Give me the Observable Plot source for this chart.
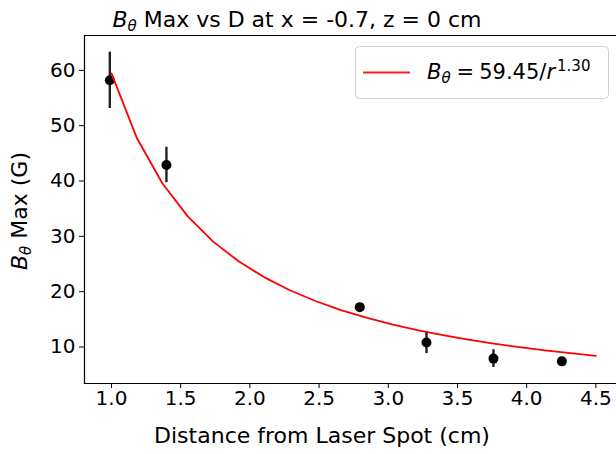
<!DOCTYPE html>
<html>
<head>
<meta charset="utf-8">
<script src="https://cdn.jsdelivr.net/npm/d3@7"></script>
<script src="https://cdn.jsdelivr.net/npm/@observablehq/plot@0.6"></script>
<style>
  html, body { margin: 0; padding: 0; background: #fff; }
  svg { font-family: "DejaVu Sans", sans-serif; }
</style>
</head>
<body>
<div id="chart"></div>
<script>
// Measured data points
const distance = [0.988, 1.397, 2.794, 3.276, 3.760, 4.254];
const bMax     = [58.2, 42.9, 17.2, 10.8, 7.9, 7.4];
const bErr     = [5.1, 3.2, 0.6, 2.0, 1.6, 0.7];

// Fit curve samples (B = 59.45 / r^1.30), values as drawn
const fitR = [1.0, 1.1842, 1.3684, 1.5526, 1.7368, 1.9211, 2.1053, 2.2895, 2.4737, 2.6579,
              2.8421, 3.0263, 3.2105, 3.3947, 3.5789, 3.7632, 3.9474, 4.1316, 4.3158, 4.5];
const fitB = [59.45, 47.72, 39.54, 33.56, 29.00, 25.44, 22.59, 20.25, 18.31, 16.68,
              15.29, 14.09, 13.05, 12.14, 11.33, 10.61, 9.98, 9.40, 8.88, 8.41];

const xTicks = [1.0, 1.5, 2.0, 2.5, 3.0, 3.5, 4.0, 4.5];
const yTicks = [10, 20, 30, 40, 50, 60];

const points = distance.map((d, i) => ({x: d, y: bMax[i], lo: bMax[i] - bErr[i], hi: bMax[i] + bErr[i]}));
const fit = fitR.map((r, i) => ({x: r, y: fitB[i]}));

const W = 616, H = 454;
const plot = Plot.plot({
  width: W,
  height: H,
  marginLeft: 84,
  marginRight: 0,
  marginTop: 35,
  marginBottom: 71,
  style: {fontFamily: "DejaVu Sans, sans-serif", background: "#fff"},
  x: {domain: [0.805, 4.649], label: null},
  y: {domain: [3.4, 66.3], label: null},
  marks: [
    Plot.axisX({ticks: xTicks, tickFormat: d3.format(".1f"), tickSize: 5, tickPadding: 2, fontSize: 20, stroke: "#000", color: "#000"}),
    Plot.axisY({ticks: yTicks, tickFormat: d3.format("d"), tickSize: 5, tickPadding: 4, fontSize: 20, stroke: "#000", color: "#000"}),
    Plot.frame({anchor: "bottom", stroke: "#000", strokeWidth: 1.2}),
    Plot.frame({anchor: "left", stroke: "#000", strokeWidth: 1.2}),
    Plot.frame({anchor: "top", stroke: "#000", strokeWidth: 1.2}),
    Plot.ruleX(points, {x: "x", y1: "lo", y2: "hi", stroke: "#222", strokeWidth: 2.4}),
    Plot.dot(points, {x: "x", y: "y", r: 5, fill: "#000", stroke: "none"}),
    Plot.line(fit, {x: "x", y: "y", stroke: "#ff0000", strokeWidth: 1.8})
  ]
});

const svg = d3.select(plot);
svg.attr("font-family", "DejaVu Sans, sans-serif");

// Title
const title = svg.append("text")
  .attr("x", 297).attr("y", 27)
  .attr("text-anchor", "middle")
  .attr("font-size", 22)
  .attr("fill", "#000");
title.append("tspan").attr("font-style", "italic").text("B");
title.append("tspan").attr("font-style", "italic").attr("font-size", 15).attr("dy", 4).text("θ");
title.append("tspan").attr("dy", -4).text(" Max vs D at x = -0.7, z = 0 cm");

// X label
svg.append("text")
  .attr("x", 322).attr("y", 443)
  .attr("text-anchor", "middle")
  .attr("font-size", 22)
  .attr("fill", "#000")
  .text("Distance from Laser Spot (cm)");

// Y label
const ylab = svg.append("text")
  .attr("transform", "translate(27,211) rotate(-90)")
  .attr("text-anchor", "middle")
  .attr("font-size", 22)
  .attr("fill", "#000");
ylab.append("tspan").attr("font-style", "italic").text("B");
ylab.append("tspan").attr("font-style", "italic").attr("font-size", 15).attr("dy", 4).text("θ");
ylab.append("tspan").attr("dy", -4).text(" Max (G)");

// Legend
const lg = svg.append("g");
lg.append("rect")
  .attr("x", 355.5).attr("y", 46.5).attr("width", 253).attr("height", 52)
  .attr("rx", 4).attr("fill", "#fff").attr("fill-opacity", 0.85)
  .attr("stroke", "#d0d0d0").attr("stroke-width", 1);
lg.append("line")
  .attr("x1", 363).attr("x2", 410).attr("y1", 72.5).attr("y2", 72.5)
  .attr("stroke", "#ff2020").attr("stroke-width", 2);
const lt = lg.append("text")
  .attr("x", 427).attr("y", 79)
  .attr("text-anchor", "start")
  .attr("font-size", 21)
  .attr("fill", "#000");
lt.append("tspan").attr("font-style", "italic").text("B");
lt.append("tspan").attr("font-style", "italic").attr("font-size", 15).attr("dy", 4).text("θ");
lt.append("tspan").attr("dy", -4).attr("dx", 6).text("=");
lt.append("tspan").attr("dx", 5).text("59.45/");
lt.append("tspan").attr("font-style", "italic").text("r");
lt.append("tspan").attr("font-size", 15).attr("dy", -8).attr("dx", 2).text("1.30");

document.getElementById("chart").appendChild(plot);
</script>
</body>
</html>
